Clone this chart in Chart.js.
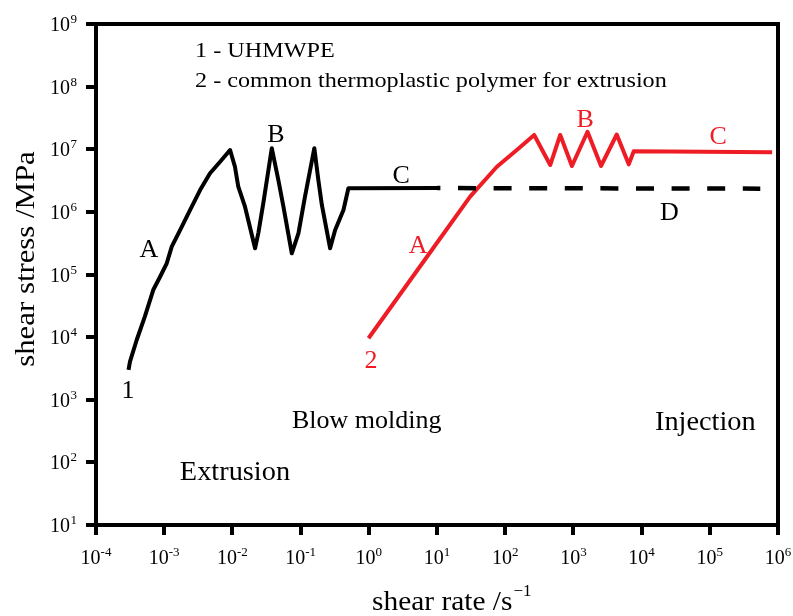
<!DOCTYPE html>
<html><head><meta charset="utf-8">
<script src="https://cdn.jsdelivr.net/npm/chart.js@4.4.0/dist/chart.umd.min.js"></script>
<style>html,body{margin:0;padding:0;background:#fff}#wrap{width:793px;height:616px;position:relative}</style>
</head><body><div id="wrap"><canvas id="c"></canvas></div>
<script>
// ---- data ----
const xTickValues = [1e-4, 1e-3, 1e-2, 1e-1, 1, 1e1, 1e2, 1e3, 1e4, 1e5, 1e6];
const xTickExponents = ['-4', '-3', '-2', '-1', '0', '1', '2', '3', '4', '5', '6'];
const yTickValues = [1e1, 1e2, 1e3, 1e4, 1e5, 1e6, 1e7, 1e8, 1e9];
const yTickExponents = ['1', '2', '3', '4', '5', '6', '7', '8', '9'];

// curve 1: UHMWPE (solid part)
const uhmwpeRate = [3.0e-4, 3.15e-4, 3.95e-4, 5.2e-4, 6.9e-4, 8.7e-4, 1.09e-3, 1.29e-3, 1.71e-3, 2.39e-3, 3.36e-3, 4.7e-3, 6.6e-3, 9.25e-3,
  1.09e-2, 1.22e-2, 1.53e-2, 2.15e-2, 2.4e-2, 2.84e-2, 3.78e-2, 4.72e-2, 5.6e-2, 7.43e-2, 9.29e-2, 0.116, 0.159, 0.182, 0.205, 0.271, 0.321, 0.425, 0.502, 10];
const uhmwpeStress = [3.0e3, 4.05e3, 9.0e3, 2.12e4, 5.65e4, 9.2e4, 1.51e5, 2.78e5, 5.13e5, 1.07e6, 2.23e6, 4.13e6, 6.32e6, 9.73e6,
  5.26e6, 2.52e6, 1.21e6, 2.62e5, 4.59e5, 1.38e6, 1.04e7, 3.22e6, 1.21e6, 2.18e5, 4.55e5, 1.75e6, 1.04e7, 3.22e6, 1.29e6, 2.62e5, 5.13e5, 1.07e6, 2.38e6, 2.4e6];
// curve 1: UHMWPE (dashed continuation D)
const uhmwpeDashRate = [10, 5.5e5];
const uhmwpeDashStress = [2.4e6, 2.35e6];
// curve 2: common thermoplastic polymer
const commonRate = [0.99, 8.4, 30.6, 75.5, 148, 266, 457, 641, 951, 1610, 2540, 4320, 6480, 7670, 8.2e5];
const commonStress = [9.6e3, 2.46e5, 1.75e6, 5.26e6, 9.73e6, 1.69e7, 5.6e6, 1.69e7, 5.4e6, 1.9e7, 5.4e6, 1.72e7, 5.74e6, 9.27e6, 8.93e6];

const pts = (xs, ys) => xs.map((x, i) => ({x, y: ys[i]}));

const BLACK = '#000000';
const RED = '#ee1c25';
const SERIF = '"Liberation Serif", "Times New Roman", serif';

// annotation texts (positions in data coordinates)
const notes = [
  {t: '1 - UHMWPE', x: 2.83e-3, y: 2.97e8, c: BLACK, s: 22, a: 'left', k: 1.1},
  {t: '2 - common thermoplastic polymer for extrusion', x: 2.83e-3, y: 9.84e7, c: BLACK, s: 22, a: 'left', k: 1.1},
  {t: 'A', x: 5.98e-4, y: 1.9e5, c: BLACK, s: 26, a: 'center', k: 1},
  {t: 'B', x: 4.36e-2, y: 1.30e7, c: BLACK, s: 26, a: 'center', k: 1},
  {t: 'C', x: 2.98, y: 2.89e6, c: BLACK, s: 26, a: 'center', k: 1},
  {t: '1', x: 2.94e-4, y: 1.08e3, c: BLACK, s: 26, a: 'center', k: 1},
  {t: '2', x: 1.08, y: 3.21e3, c: RED, s: 26, a: 'center', k: 1},
  {t: 'A', x: 5.28, y: 2.18e5, c: RED, s: 26, a: 'center', k: 1},
  {t: 'B', x: 1490, y: 2.29e7, c: RED, s: 26, a: 'center', k: 1},
  {t: 'C', x: 1.33e5, y: 1.21e7, c: RED, s: 26, a: 'center', k: 1},
  {t: 'D', x: 2.55e4, y: 7.41e5, c: BLACK, s: 26, a: 'center', k: 1},
  {t: 'Blow molding', x: 0.93, y: 354, c: BLACK, s: 26, a: 'center', k: 1},
  {t: 'Injection', x: 8.6e4, y: 329, c: BLACK, s: 27, a: 'center', k: 1.05},
  {t: 'Extrusion', x: 1.09e-2, y: 52, c: BLACK, s: 27, a: 'center', k: 1.05}
];

function drawTxt(ctx, t, x, y, size, color, align, k, rot) {
  ctx.save();
  ctx.translate(x, y);
  if (rot) ctx.rotate(rot);
  ctx.scale(k || 1, 1);
  ctx.font = size + 'px ' + SERIF;
  ctx.fillStyle = color;
  ctx.textAlign = align;
  ctx.textBaseline = 'alphabetic';
  ctx.fillText(t, 0, 0);
  ctx.restore();
}
function textW(ctx, t, size) {
  ctx.save(); ctx.font = size + 'px ' + SERIF; const w = ctx.measureText(t).width; ctx.restore(); return w;
}

const decor = {
  id: 'decor',
  afterDraw(chart) {
    const ctx = chart.ctx, a = chart.chartArea;
    const xs = chart.scales.x, ys = chart.scales.y;
    // frame (top and right sides)
    ctx.save();
    ctx.strokeStyle = BLACK; ctx.lineWidth = 4; ctx.lineCap = 'square';
    ctx.beginPath();
    ctx.moveTo(a.left, a.top); ctx.lineTo(a.right, a.top); ctx.lineTo(a.right, a.bottom);
    ctx.stroke();
    ctx.restore();
    // tick labels: 10 with superscript exponent
    const BS = 20, ES = 13;
    xs.ticks.forEach((tk, i) => {
      const px = xs.getPixelForValue(tk.value);
      const e = xTickExponents[i];
      const w1 = textW(ctx, '10', BS), w2 = textW(ctx, e, ES);
      const x0 = px - (w1 + w2) / 2;
      drawTxt(ctx, '10', x0, a.bottom + 39, BS, BLACK, 'left', 1);
      drawTxt(ctx, e, x0 + w1, a.bottom + 31, ES, BLACK, 'left', 1);
    });
    ys.ticks.forEach((tk, i) => {
      const py = ys.getPixelForValue(tk.value);
      const e = yTickExponents[i];
      const right = a.left - 19;
      const w2 = textW(ctx, e, ES);
      drawTxt(ctx, e, right, py - 1, ES, BLACK, 'right', 1);
      drawTxt(ctx, '10', right - w2 - 0.5, py + 7, BS, BLACK, 'right', 1);
    });
    notes.forEach(n => drawTxt(ctx, n.t, xs.getPixelForValue(n.x), ys.getPixelForValue(n.y), n.s, n.c, n.a, n.k));
    // axis titles
    drawTxt(ctx, 'shear stress /MPa', 34, 259, 28, BLACK, 'center', 1.1, -Math.PI / 2);
    const w = textW(ctx, 'shear rate /s', 28) * 1.05;
    drawTxt(ctx, 'shear rate /s', 372, 610, 28, BLACK, 'left', 1.05);
    drawTxt(ctx, '\u22121', 372 + w + 1, 596, 17, BLACK, 'left', 1);
  }
};

new Chart(document.getElementById('c'), {
  type: 'scatter',
  data: {
    datasets: [
      {data: pts(uhmwpeRate, uhmwpeStress), showLine: true, borderColor: BLACK, borderWidth: 4, pointRadius: 0, borderJoinStyle: 'round', borderCapStyle: 'butt'},
      {data: pts(uhmwpeDashRate, uhmwpeDashStress), showLine: true, borderColor: BLACK, borderWidth: 4.5, pointRadius: 0, borderDash: [18, 17.6], borderDashOffset: 14.6},
      {data: pts(commonRate, commonStress), showLine: true, borderColor: RED, borderWidth: 4, pointRadius: 0, borderJoinStyle: 'round', borderCapStyle: 'butt'}
    ]
  },
  options: {
    responsive: true, maintainAspectRatio: false, animation: false,
    layout: {padding: {top: 24, right: 15, left: 0, bottom: 0}},
    plugins: {legend: {display: false}, tooltip: {enabled: false}},
    scales: {
      x: {
        type: 'logarithmic', position: 'bottom', min: 1e-4, max: 1e6,
        afterBuildTicks: s => { s.ticks = xTickValues.map(v => ({value: v, major: true})); },
        afterFit: s => { s.height = 91; s.paddingLeft = 0; s.paddingRight = 0; },
        ticks: {display: false, autoSkip: false, maxRotation: 0},
        grid: {drawOnChartArea: false, drawTicks: true, tickLength: 10, color: BLACK, lineWidth: 4},
        border: {display: true, color: BLACK, width: 4}
      },
      y: {
        type: 'logarithmic', position: 'left', min: 1e1, max: 1e9,
        afterBuildTicks: s => { s.ticks = yTickValues.map(v => ({value: v, major: true})); },
        afterFit: s => { s.width = 96; s.paddingTop = 0; s.paddingBottom = 0; },
        ticks: {display: false, autoSkip: false},
        grid: {drawOnChartArea: false, drawTicks: true, tickLength: 10, color: BLACK, lineWidth: 4},
        border: {display: true, color: BLACK, width: 4}
      }
    }
  },
  plugins: [decor]
});
</script></body></html>
